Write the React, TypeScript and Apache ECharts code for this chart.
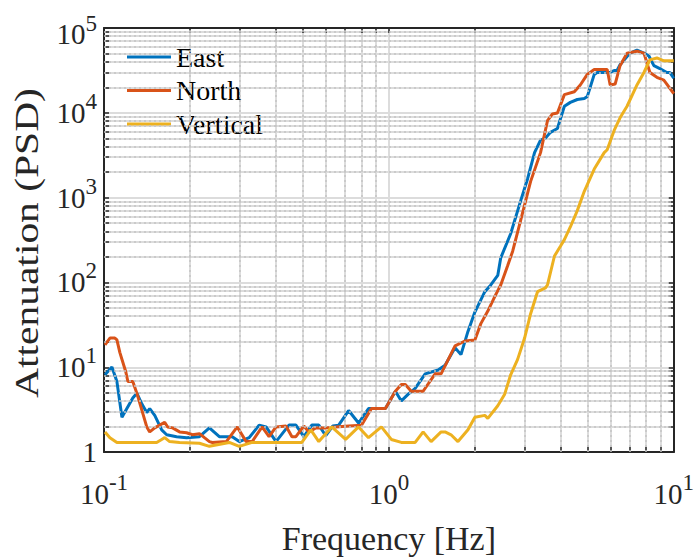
import React, { useEffect, useRef } from 'react';
import * as echarts from 'echarts';

// ---- data (frequency in Hz, attenuation PSD) ----
const eastFreq = [0.1008,0.1066,0.1110,0.1156,0.1262,0.1304,0.1357,0.1413,0.1447,0.1507,0.1594,0.1660,0.1798,0.1949,0.2163,0.2344,0.2540,0.2820,0.2984,0.3233,0.3504,0.3707,0.4017,0.4459,0.4717,0.5030,0.5364,0.5675,0.6004,0.6351,0.6665,0.7223,0.7826,0.8481,0.9723,1.054,1.106,1.170,1.237,1.341,1.489,1.575,1.707,1.791,1.895,2.004,2.172,2.279,2.411,2.470,2.676,2.901,3.069,3.246,3.407,3.546,3.692,3.905,4.131,4.335,4.586,4.853,4.971,5.259,5.387,5.982,6.177,6.324,6.479,7.022,7.429,7.859,8.182,8.517,8.937,9.454,9.683,10.0];
const eastPSD = [8.15,10.05,6.78,2.57,4.34,4.95,3.71,2.93,3.26,2.71,1.83,1.60,1.52,1.48,1.52,1.93,1.52,1.52,1.33,1.48,2.08,1.98,1.33,2.08,2.08,1.52,2.08,2.08,1.56,2.03,2.08,3.09,2.20,3.26,3.26,5.22,4.01,4.82,5.64,8.37,9.29,10.59,16.98,14.1,26.5,44.8,77.8,93.4,121,195,375,915,1671,3393,4774,5033,5888,6538,11950,13280,14360,14750,15530,28400,29920,29920,31540,31540,36910,50580,54700,50580,46750,35970,33250,29920,29920,25550];

const northFreq = [0.1008,0.1049,0.1092,0.1110,0.1137,0.1193,0.1213,0.1262,0.1304,0.1413,0.1447,0.1507,0.1569,0.1633,0.1673,0.1741,0.1842,0.1949,0.2045,0.2163,0.2252,0.2344,0.2402,0.2688,0.2936,0.3156,0.3313,0.3589,0.3797,0.4017,0.4352,0.4568,0.4717,0.5030,0.5236,0.5540,0.6004,0.6507,0.7223,0.8017,0.8688,0.9723,1.054,1.106,1.142,1.198,1.319,1.453,1.525,1.707,1.849,2.004,2.103,2.225,2.372,2.470,2.613,2.720,2.901,3.143,3.407,3.604,3.752,3.905,4.131,4.477,4.698,4.971,5.259,5.839,5.982,6.227,6.479,6.855,7.429,7.859,8.248,8.725,9.229,9.454,10.0];
const northPSD = [18.4,22.1,22.1,21.0,14.9,8.8,6.8,6.8,4.95,1.98,1.73,1.93,2.08,2.25,1.98,1.93,1.73,1.69,1.60,1.65,1.48,1.33,1.30,1.33,1.98,1.33,1.33,1.98,1.52,1.98,2.03,1.52,1.52,2.03,1.73,1.93,1.93,1.98,2.03,2.08,3.26,3.26,5.22,6.27,6.27,5.22,5.22,8.37,8.37,17.9,20.4,20.95,32.7,46.0,71.8,93.4,158,234,541,1545,3393,8068,9690,9950,16380,17720,21290,28400,32370,32370,21290,21840,35970,50580,53300,50580,29920,26230,24260,21840,16820];

const vertFreq = [0.1008,0.1049,0.1110,0.1531,0.1594,0.1633,0.1700,0.1842,0.2163,0.2344,0.2753,0.2984,0.3313,0.4352,0.4950,0.5321,0.5675,0.6301,0.7050,0.7826,0.8481,0.9415,1.020,1.106,1.237,1.319,1.407,1.525,1.575,1.653,1.748,1.895,2.004,2.172,2.225,2.411,2.550,2.676,2.831,2.995,3.143,3.325,3.546,3.604,3.813,4.001,4.131,4.335,4.586,4.853,5.259,5.700,5.839,6.177,6.479,6.855,7.429,7.859,8.248,8.725,9.229,10.0];
const vertPSD = [1.73,1.48,1.30,1.30,1.41,1.48,1.33,1.30,1.27,1.17,1.30,1.17,1.30,1.30,1.30,1.83,1.33,1.98,1.41,1.98,1.48,1.98,1.41,1.30,1.30,1.73,1.33,1.73,1.73,1.60,1.33,1.83,2.57,2.71,2.50,3.52,4.82,8.15,12.39,22.1,42.5,77.8,86.3,93.4,205,267,320,451,703,1189,2173,3393,3672,6207,8730,11950,21290,29920,42100,44360,41000,41000];

const seriesNames = ['East', 'North', 'Vertical'];
const seriesColors = ['#0072BD', '#D95319', '#EDB120'];

// ---- tick labels ----
const xTickValues = [0.1, 1, 10];
const xTickBases = ['10', '10', '10'];
const xTickExps = ['-1', '0', '1'];
const yTickValues = [1, 10, 100, 1000, 10000, 100000];
const yTickBases = ['1', '10', '10', '10', '10', '10'];
const yTickExps = ['', '1', '2', '3', '4', '5'];

const minorMultipliers = [2, 3, 4, 5, 6, 7, 8, 9];
const xDecades = [0.1, 1];
const yDecades = [1, 10, 100, 1000, 10000];

const xTitle = 'Frequency [Hz]';
const yTitle = 'Attenuation (PSD)';

const FONT = "'Liberation Serif', 'Times New Roman', Times, serif";
const INK = '#262626';

function makeFormatter(values: number[], bases: string[], exps: string[], topSpecial: boolean) {
  return (v: number) => {
    const i = values.findIndex((t) => Math.abs(Math.log10(t) - Math.log10(v)) < 1e-6);
    if (i < 0) return '';
    if (!exps[i]) return `{b|${bases[i]}}`;
    if (topSpecial && i === values.length - 1) return `{bt|${bases[i]}}{st|${exps[i]}}`;
    return `{b|${bases[i]}}{s|${exps[i]}}`;
  };
}

const rich = {
  b: { fontFamily: FONT, fontSize: 29, color: INK, lineHeight: 44, height: 44, verticalAlign: 'middle' },
  s: { fontFamily: FONT, fontSize: 23, color: INK, lineHeight: 21, height: 21, verticalAlign: 'top' },
  bt: { fontFamily: FONT, fontSize: 29, color: INK, lineHeight: 56, height: 44, verticalAlign: 'bottom' },
  st: { fontFamily: FONT, fontSize: 23, color: INK, lineHeight: 46, height: 46, verticalAlign: 'top' },
};

export default function App() {
  const ref = useRef<HTMLDivElement>(null);
  useEffect(() => {
    if (!ref.current) return;
    const chart = echarts.init(ref.current, null, { renderer: 'svg' });

    const xMinor: number[] = [];
    xDecades.forEach((d) => minorMultipliers.forEach((m) => xMinor.push(+(d * m).toPrecision(3))));
    const yMinor: number[] = [];
    yDecades.forEach((d) => minorMultipliers.forEach((m) => yMinor.push(+(d * m).toPrecision(3))));
    const xTicksAll = [...xTickValues, ...xMinor].sort((a, b) => a - b);
    const yTicksAll = [...yTickValues, ...yMinor].sort((a, b) => a - b);

    const axisLine = { show: true, onZero: false, lineStyle: { color: INK, width: 2 } };
    const tickStyle = { color: INK, width: 1.5 };

    const freqs = [eastFreq, northFreq, vertFreq];
    const vals = [eastPSD, northPSD, vertPSD];

    const option: any = {
      animation: false,
      backgroundColor: '#ffffff',
      textStyle: { fontFamily: FONT },
      grid: { left: 104, right: 20, top: 24, bottom: 97, containLabel: false },
      legend: {
        show: true,
        data: seriesNames,
        orient: 'vertical',
        left: 122,
        top: 38,
        icon: 'rect',
        itemWidth: 44,
        itemHeight: 3,
        itemGap: 5.5,
        textStyle: { fontFamily: FONT, fontSize: 28, color: '#000', lineHeight: 28 },
      },
      graphic: [
        {
          type: 'text',
          x: 26,
          y: 243,
          rotation: Math.PI / 2,
          scaleX: 1.22,
          silent: true,
          style: {
            text: yTitle,
            fontFamily: FONT,
            fontSize: 34,
            fill: INK,
            textAlign: 'center',
            textVerticalAlign: 'middle',
            align: 'center',
            verticalAlign: 'middle',
          },
        },
      ],
      xAxis: [
        {
          type: 'log', logBase: 10, min: 0.1, max: 10, position: 'bottom',
          axisLine,
          axisTick: { show: true, inside: true, length: 5, customValues: xTicksAll, lineStyle: tickStyle },
          axisLabel: { show: true, margin: 20, formatter: makeFormatter(xTickValues, xTickBases, xTickExps, false), rich },
          splitLine: { show: true, lineStyle: { color: '#dcdcdc', width: 2 } },
          name: xTitle, nameLocation: 'middle', nameGap: 66,
          nameTextStyle: { fontFamily: FONT, fontSize: 34, color: INK },
        },
        {
          type: 'log', logBase: 10, min: 0.1, max: 10, position: 'top',
          axisLine,
          axisTick: { show: true, inside: true, length: 5, customValues: xTicksAll, lineStyle: tickStyle },
          axisLabel: { show: false },
          splitLine: { show: false },
        },
      ],
      yAxis: [
        {
          type: 'log', logBase: 10, min: 1, max: 100000, position: 'left',
          axisLine,
          axisTick: { show: true, inside: true, length: 5, customValues: yTicksAll, lineStyle: tickStyle },
          axisLabel: { show: true, margin: 7, formatter: makeFormatter(yTickValues, yTickBases, yTickExps, true), rich },
          splitLine: { show: true, lineStyle: { color: '#dcdcdc', width: 2 } },
        },
        {
          type: 'log', logBase: 10, min: 1, max: 100000, position: 'right',
          axisLine,
          axisTick: { show: true, inside: true, length: 5, customValues: yTicksAll, lineStyle: tickStyle },
          axisLabel: { show: false },
          splitLine: { show: false },
        },
      ],
      series: [
        {
          name: '__grid',
          type: 'line',
          xAxisIndex: 0,
          yAxisIndex: 0,
          data: [[1, 1]],
          showSymbol: false,
          symbol: 'none',
          lineStyle: { opacity: 0 },
          z: 1,
          silent: true,
          markLine: {
            silent: true,
            symbol: ['none', 'none'],
            label: { show: false },
            animation: false,
            lineStyle: { type: [2, 3], color: '#c4c4c4', width: 1.5 },
            emphasis: { disabled: true },
            data: [
              ...xMinor.map((v) => ({ xAxis: v })),
              ...yMinor.map((v) => ({ yAxis: v })),
            ],
          },
        },
        ...seriesNames.map((name, k) => ({
          name,
          type: 'line',
          xAxisIndex: 0,
          yAxisIndex: 0,
          data: freqs[k].map((f, i) => [f, vals[k][i]]),
          showSymbol: false,
          symbol: 'none',
          z: 3 + k,
          lineStyle: { color: seriesColors[k], width: 3 },
          itemStyle: { color: seriesColors[k] },
          emphasis: { disabled: true },
        })),
      ],
    };
    chart.setOption(option);
    return () => chart.dispose();
  }, []);

  return <div ref={ref} style={{ position: 'fixed', left: 0, top: 0, width: 697, height: 560, background: '#fff' }} />;
}
